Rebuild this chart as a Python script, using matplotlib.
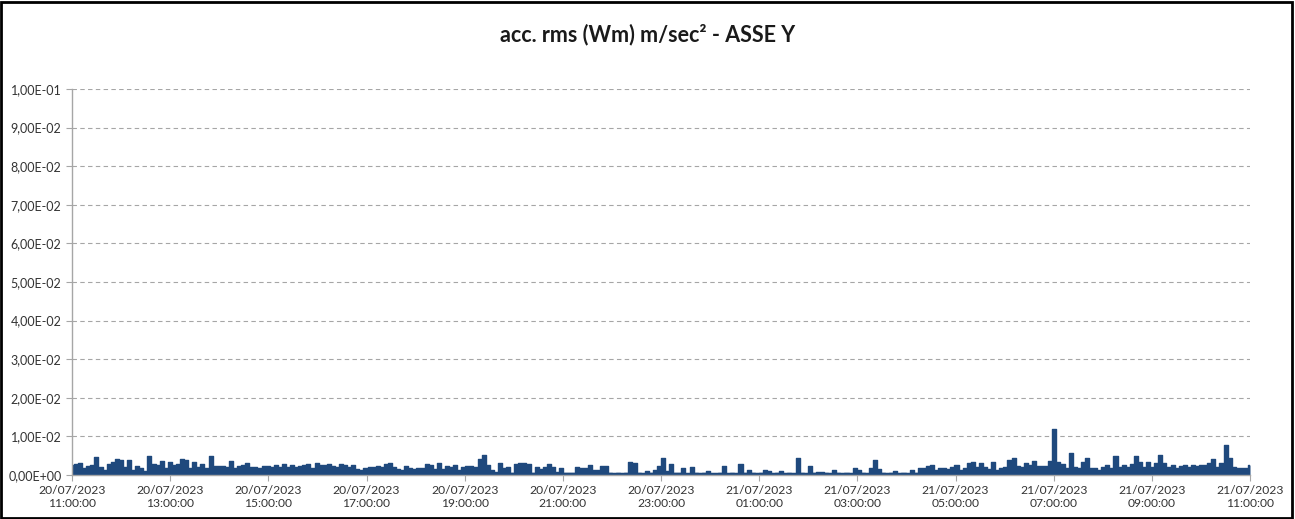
import matplotlib
matplotlib.use("Agg")
import matplotlib.pyplot as plt
import matplotlib.dates as mdates
from matplotlib.patches import Rectangle
from matplotlib.ticker import FuncFormatter
import numpy as np
import pandas as pd

plt.rcParams['font.family'] = ['Lato', 'DejaVu Sans']

# acc. rms values, axis Y, one sample every 5 minutes (units of 1e-3 m/s2)
acc_y_1 = [2.5, 2.8, 3.2, 1.7, 2.3, 2.5, 4.6, 2.2, 1.3, 2.8, 3.3, 4.1, 4.0, 2.0, 3.9, 1.3,
           2.3, 1.8, 1.0, 5.0, 2.8, 2.6, 3.6, 1.7, 3.3, 2.6, 2.9, 4.1, 3.9, 1.9, 3.3, 2.1,
           2.8, 1.7, 5.0, 2.4, 2.4, 2.3, 2.2, 3.6, 1.7]
acc_y_2 = [2.4, 2.6, 3.0, 2.2, 2.0, 1.9, 2.4, 2.3, 2.1, 2.6, 2.0, 2.8, 2.2, 2.5, 2.1, 2.3,
           2.6, 2.8, 1.9, 3.0, 2.7, 2.5, 2.9, 2.3, 2.1, 2.8, 2.5, 2.0, 2.6, 1.6, 1.2, 1.8,
           2.2, 2.0, 2.4, 2.1, 2.8, 3.0, 2.0, 1.5, 1.4, 2.4]
acc_y_3 = [1.7, 1.6, 1.8, 1.7, 2.8, 2.7, 1.6, 3.1, 1.5, 2.4, 2.2, 2.6, 1.2, 2.0, 2.4, 2.3,
           2.0, 4.2, 5.3, 2.6, 1.2, 0.8, 3.0, 1.7, 2.2, 0.6, 2.9, 3.1, 3.1, 2.9, 0.5, 2.2,
           1.6, 2.0, 2.8, 2.2, 0.7, 1.8, 0.4, 0.4, 0.5, 2.0]
acc_y_4 = [1.9, 1.8, 2.6, 1.2, 1.3, 2.3, 2.4, 0.4, 0.3, 0.4, 0.3, 0.4, 3.3, 3.2, 0.4, 0.3,
           1.0, 0.4, 1.3, 2.4, 4.5, 1.0, 2.8, 0.5, 0.4, 1.7, 0.3, 2.1, 0.4, 0.3, 0.4, 1.0,
           0.3, 0.3, 0.4, 2.3, 0.3, 0.4, 0.3, 2.8, 0.5]
acc_y_5 = [1.2, 0.4, 0.3, 0.4, 1.3, 1.0, 0.3, 0.4, 1.0, 0.3, 0.4, 0.3, 4.3, 0.4, 0.3, 2.3,
           0.4, 0.9, 0.9, 0.4, 0.3, 1.3, 0.4, 0.3, 0.4, 0.3, 1.7, 1.4, 0.4, 0.3, 1.9, 3.9,
           1.5, 0.4, 0.3, 0.4, 1.0, 0.3, 0.4, 0.3, 1.4, 0.5]
acc_y_6 = [1.7, 1.8, 2.4, 2.6, 1.3, 1.7, 1.8, 1.6, 2.2, 2.6, 1.3, 1.7, 3.0, 3.4, 2.2, 3.0,
           2.1, 1.5, 3.3, 1.3, 1.9, 2.2, 3.9, 4.5, 2.4, 2.2, 3.0, 2.6, 3.6, 2.4, 2.4, 2.3,
           3.6, 11.8, 3.3, 2.8, 1.9, 5.6, 2.1, 1.7, 3.4, 4.3]
acc_y_7 = [1.9, 1.9, 1.4, 2.1, 2.6, 1.9, 5.0, 2.2, 2.6, 2.0, 2.8, 4.9, 3.4, 2.2, 3.3, 2.2,
           3.0, 5.2, 3.0, 2.1, 2.6, 1.9, 2.3, 2.6, 2.2, 2.7, 2.4, 2.6, 2.6, 3.0, 4.1, 2.2,
           3.0, 7.9, 4.3, 2.2, 1.9, 1.7, 1.7, 2.6]

acc_y = np.array(acc_y_1 + acc_y_2 + acc_y_3 + acc_y_4 + acc_y_5 + acc_y_6 + acc_y_7) * 1e-3

start = pd.Timestamp("2023-07-20 11:00:00")
end = pd.Timestamp("2023-07-21 11:00:00")
times = pd.date_range(start, end, periods=len(acc_y))
tick_times = pd.date_range(start, end, freq="2h")

bar_color = "#1F497D"
grid_color = "#A6A6A6"

fig = plt.figure(figsize=(12.95, 5.19), dpi=100)
ax = fig.add_axes([72 / 1295, 1 - 475 / 519, 1178 / 1295, 386 / 519])

ax.fill_between(times, 0, acc_y, step="mid", color=bar_color, linewidth=0)
ax.plot(times, acc_y, color=bar_color, linewidth=1.0, drawstyle="steps-mid")
ax.axhline(0.0002, color=bar_color, linewidth=2.5)

ax.set_xlim(start, end)
ax.set_ylim(0, 0.1)
ax.set_yticks(np.arange(0, 0.1001, 0.01))
ax.yaxis.set_major_formatter(FuncFormatter(
    lambda v, p: "0,00E+00" if v == 0 else ("%.2E" % v).replace(".", ",")))
ax.set_xticks(tick_times)
ax.xaxis.set_major_formatter(mdates.DateFormatter("%d/%m/%Y\n%H:%M:%S"))

ax.yaxis.grid(True, linestyle=(0, (4, 3)), color=grid_color, linewidth=0.8)
ax.set_axisbelow(True)
for side in ["top", "right"]:
    ax.spines[side].set_visible(False)
for side in ["left", "bottom"]:
    ax.spines[side].set_color(grid_color)
    ax.spines[side].set_linewidth(1.0)

ax.tick_params(axis="both", colors=grid_color, length=4, width=0.8, labelcolor="#333333")
ax.tick_params(axis="y", labelsize=9)
ax.tick_params(axis="x", labelsize=8.7)

fig.text(0.5, 1 - 35 / 519, "acc. rms (Wm) m/sec² - ASSE Y", ha="center", va="center",
         fontsize=15.5, fontweight="bold", color="#1a1a1a")

# black frame around the whole chart
fig.patches.append(Rectangle((0.001, 0.002), 0.997, 0.995, transform=fig.transFigure,
                             fill=False, edgecolor="black", linewidth=2))

fig.savefig("out.png", dpi=100)
